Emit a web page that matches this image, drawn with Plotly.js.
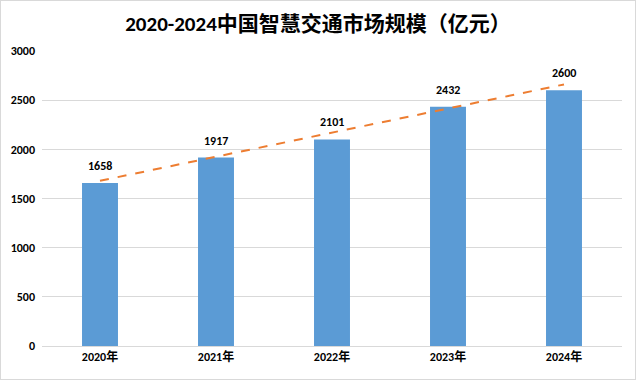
<!DOCTYPE html>
<html><head><meta charset="utf-8">
<script src="https://cdn.plot.ly/plotly-3.0.1.min.js"></script>
<style>html,body{margin:0;padding:0;background:#fff;}#chart{width:634px;height:378px;border:1px solid #d9d9d9;}</style>
</head><body><div id="chart"></div>
<script>
const years = ['2020年','2021年','2022年','2023年','2024年'];
const values = [1658, 1917, 2101, 2432, 2600];
const trendX = ['2020年','2024年'];
const trendY = [1680, 2660];
const yTicks = [0, 500, 1000, 1500, 2000, 2500, 3000];

const font = 'Calibri, Carlito, "Noto Sans CJK SC", sans-serif';
const bars = {type:'bar', x: years, y: values, marker:{color:'#5B9BD5'}, hoverinfo:'skip'};
const trend = {type:'scatter', mode:'lines', x: trendX, y: trendY,
  line:{color:'#ED7D31', width:2, dash:'dash'}, hoverinfo:'skip'};
const annotations = years.map((c,i)=>({x:c, y:values[i], text:String(values[i]), showarrow:false,
  yshift:17, font:{family:font, size:12, color:'#000', weight:'bold'}}));
const layout = {
  width:634, height:378, showlegend:false,
  paper_bgcolor:'#fff', plot_bgcolor:'#fff',
  margin:{l:41, r:13, t:50, b:33},
  bargap:0.69,
  title:{text:'2020-2024中国智慧交通市场规模（亿元）', x:0.5, xanchor:'center', y:0.94, yanchor:'middle',
    font:{family:font, size:21, color:'#000', weight:'bold'}},
  xaxis:{type:'category', showgrid:false, showline:true, linecolor:'#d9d9d9', ticks:'',
    tickfont:{family:font, size:12, color:'#000', weight:'bold'}},
  yaxis:{range:[0,3000], tickvals:yTicks, showgrid:true, gridcolor:'#d9d9d9', zeroline:false, showline:false,
    tickfont:{family:font, size:12, color:'#000', weight:'bold'}, ticks:'', ticklabelstandoff:6},
  annotations: annotations
};
Plotly.newPlot('chart', [bars, trend], layout, {staticPlot:true});
</script></body></html>
